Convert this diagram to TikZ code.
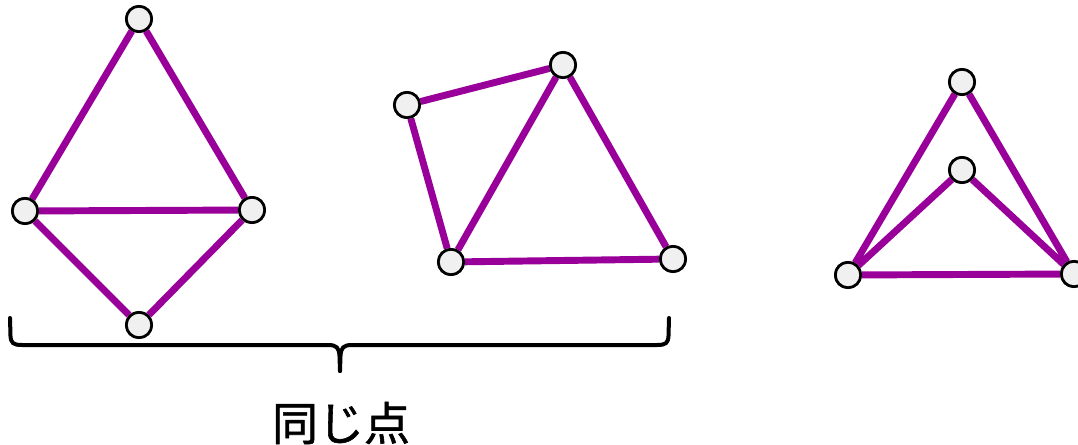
\documentclass[tikz,border=0pt]{standalone}
\usepackage{fontspec}
\newfontfamily\cjk[FakeBold=1.2]{Noto Sans CJK JP}
\definecolor{edgepurple}{HTML}{990099}
\definecolor{nodefill}{HTML}{F0F0F0}
\begin{document}
\begin{tikzpicture}[x=0.75pt,y=-0.75pt,
  vert/.style={circle,draw=black,line width=2pt,fill=nodefill,minimum size=19pt,inner sep=0pt},
  edge/.style={draw=edgepurple,line width=5.2pt},
  bracepath/.style={draw=black,line width=3pt,line cap=round,line join=round}]
\useasboundingbox (0,0) rectangle (1078,445);
% graph 1
\node[vert] (a) at (139,19) {};
\node[vert] (b) at (25,211) {};
\node[vert] (c) at (252,210) {};
\node[vert] (d) at (139,325) {};
% graph 2
\node[vert] (p) at (407,105) {};
\node[vert] (q) at (563,65) {};
\node[vert] (r) at (451,262) {};
\node[vert] (s) at (673,259) {};
% graph 3
\node[vert] (t) at (962,82) {};
\node[vert] (u) at (962,170) {};
\node[vert] (v) at (848,275) {};
\node[vert] (w) at (1074,274) {};
\path[edge] (a) -- (b) (a) -- (c) (b) -- (c) (b) -- (d) (c) -- (d);
\path[edge] (p) -- (q) (p) -- (r) (q) -- (r) (q) -- (s) (r) -- (s);
\path[edge] (t) -- (v) (t) -- (w) (u) -- (v) (u) -- (w) (v) -- (w);
% redraw nodes on top
\foreach \n in {a,b,c,d,p,q,r,s,t,u,v,w}{\node[vert] at (\n) {};}
% brace
\coordinate (bl) at (10,318);
\coordinate (br) at (669,318);
\coordinate (bt) at (340,371);
\path[bracepath] (bl) -- (10.5,336) .. controls (11,343) and (13,345) .. (22,345)
  -- (328,345) .. controls (337,345) and (339,348) .. (339.5,356) -- (bt);
\path[bracepath] (bt) -- (340.5,356) .. controls (341,348) and (343,345) .. (352,345)
  -- (657,345) .. controls (666,345) and (668,343) .. (668.5,336) -- (br);
\node[font=\cjk\fontsize{34.5}{40}\selectfont,inner sep=0pt] (lbl) at (341,423) {同じ点};
\end{tikzpicture}
\end{document}
